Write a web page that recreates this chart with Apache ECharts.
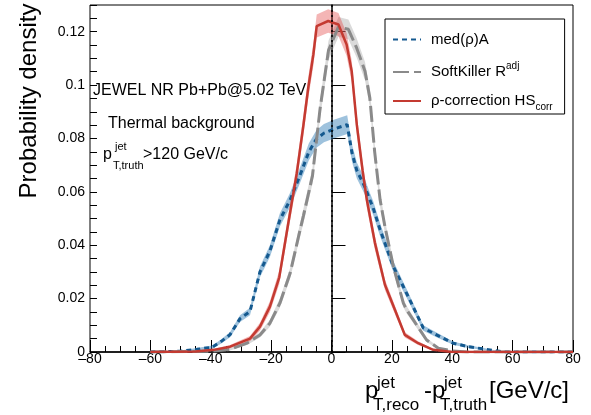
<!DOCTYPE html>
<html><head><meta charset="utf-8">
<script src="https://cdn.jsdelivr.net/npm/echarts@6/dist/echarts.min.js"></script>
<style>html,body{margin:0;padding:0;background:#fff}#c{width:591px;height:415px}</style>
</head><body><div id="c"></div>
<script>
// ---- data ----
const xTicks = [-80, -60, -40, -20, 0, 20, 40, 60, 80];
const yTicks = [0, 0.02, 0.04, 0.06, 0.08, 0.1, 0.12];

const blueX = [-60,-50,-44.6,-39.5,-36.5,-33.6,-30.3,-27,-23.7,-20.4,-17.1,-13.7,-10.5,-7.5,-5,-2.5,1,5.2,6.8,8.4,11,12.7,13.8,16.1,20.5,25.4,30.4,34.8,40.3,45.3,50,57,80];
const blueY = [0,0.0003,0.001,0.0018,0.004,0.0065,0.0125,0.0152,0.030,0.0378,0.0495,0.057,0.066,0.075,0.0798,0.082,0.0836,0.0852,0.0745,0.068,0.062,0.057,0.054,0.0458,0.032,0.0208,0.009,0.0064,0.0033,0.002,0.0012,0,0];
const blueErr = [0,0.0003,0.0005,0.0006,0.0008,0.001,0.0013,0.0014,0.002,0.0022,0.0025,0.0027,0.0029,0.0032,0.0033,0.0034,0.0035,0.0035,0.0032,0.003,0.0029,0.0027,0.0026,0.0024,0.002,0.0016,0.001,0.0009,0.0006,0.0005,0.0004,0,0];

const redX = [-60,-45,-39,-33.6,-27,-23.7,-20.4,-17.3,-14.5,-11.5,-9.3,-7.7,-6,-4.9,-1.1,2.3,5,6.7,8.4,10.3,11.7,14.4,17.7,21,24.3,28.7,33.7,40,80];
const redY = [0,0.0002,0.0008,0.002,0.005,0.0095,0.017,0.028,0.047,0.067,0.085,0.099,0.1115,0.1221,0.124,0.1227,0.1152,0.1052,0.085,0.068,0.057,0.0408,0.0252,0.0158,0.0064,0.0033,0.0008,0,0];
const redErr = [0,0.0002,0.0004,0.0006,0.001,0.0015,0.002,0.0025,0.003,0.0035,0.0038,0.004,0.0042,0.0043,0.0044,0.0043,0.0042,0.004,0.0037,0.0033,0.003,0.0026,0.002,0.0016,0.001,0.0007,0.0003,0,0];

const grayX = [-60,-40,-33.6,-28,-23.7,-20.4,-17.1,-13.7,-10.4,-9.3,-6.3,-3.8,-1,2.3,5.6,8.3,11.1,12.7,14.3,16.1,17.7,20.5,23.8,24.9,31.5,35.4,40,45,80];
const grayY = [0,0.0003,0.001,0.0033,0.0064,0.0108,0.0183,0.0295,0.0458,0.051,0.066,0.091,0.113,0.1218,0.1209,0.114,0.1052,0.0952,0.075,0.057,0.047,0.032,0.0183,0.0158,0.0045,0.0014,0.0004,0,0];
const grayErr = [0,0.0002,0.0004,0.0007,0.001,0.0013,0.0017,0.002,0.0025,0.0027,0.003,0.0034,0.0036,0.0037,0.0037,0.0036,0.0034,0.0033,0.003,0.0026,0.0024,0.002,0.0015,0.0014,0.0008,0.0004,0.0002,0,0];

const names = ['med(ρ)A', 'SoftKiller R', 'ρ-correction HS'];

// ---- chart ----
const FONT = 'Liberation Sans, Arial, Helvetica, sans-serif';
const pairs = (xs, ys) => xs.map((x, i) => [x, ys[i]]);

function band(xs, ys, es, color) {
  return {
    type: 'custom', silent: true, z: 1, clip: true,
    data: pairs(xs, ys),
    renderItem: function (params, api) {
      if (params.dataIndex !== 0) return null;
      const pts = [];
      for (let i = 0; i < xs.length; i++) pts.push(api.coord([xs[i], ys[i] + es[i]]));
      for (let i = xs.length - 1; i >= 0; i--) pts.push(api.coord([xs[i], Math.max(0, ys[i] - es[i])]));
      return { type: 'polygon', shape: { points: pts }, style: { fill: color } };
    }
  };
}

const chart = echarts.init(document.getElementById('c'), null, { renderer: 'canvas' });

const series = [
  band(blueX, blueY, blueErr, 'rgba(40,120,180,0.45)'),
  band(grayX, grayY, grayErr, 'rgba(150,150,150,0.35)'),
  band(redX, redY, redErr, 'rgba(225,60,60,0.38)'),
  { type: 'line', name: names[0], data: pairs(blueX, blueY), symbol: 'none', z: 3,
    lineStyle: { color: '#14598f', width: 3, type: [5, 4] }, itemStyle: { color: '#14598f' } },
  { type: 'line', name: names[1], data: pairs(grayX, grayY), symbol: 'none', z: 3,
    lineStyle: { color: '#8a8a8a', width: 3, type: [16, 5] }, itemStyle: { color: '#8a8a8a' } },
  { type: 'line', name: names[2], data: pairs(redX, redY), symbol: 'none', z: 4,
    lineStyle: { color: '#c43a31', width: 2.5 }, itemStyle: { color: '#c43a31' },
    markLine: { silent: true, symbol: ['none', 'none'], label: { show: false },
      lineStyle: { color: '#000', type: [2, 3], width: 1.5 }, data: [{ xAxis: 0 }] } }
];

const txt = (x, y, text, size, extra) => Object.assign({
  type: 'text', x: x, y: y, z: 100,
  style: { text: text, fill: '#000', font: size + 'px ' + FONT, textAlign: 'left', textVerticalAlign: 'middle', verticalAlign: 'middle' }
}, extra || {});

chart.setOption({
  animation: false,
  backgroundColor: '#fff',
  grid: { left: 90, right: 18, top: 5, bottom: 63, show: true, borderColor: '#000', borderWidth: 1, backgroundColor: 'transparent' },
  xAxis: {
    type: 'value', min: -80, max: 80, interval: 20,
    axisLine: { lineStyle: { color: '#000', width: 1.5 } },
    axisTick: { inside: true, length: 12, lineStyle: { color: '#000' } },
    minorTick: { show: true, splitNumber: 4, length: 6, lineStyle: { color: '#000' } },
    splitLine: { show: false },
    axisLabel: { color: '#000', fontFamily: FONT, fontSize: 14, margin: 0,
      formatter: v => xTicks.includes(v) ? String(v).replace('-', '\u2013') : '' }
  },
  yAxis: [
    { type: 'value', min: 0, max: 0.13, interval: 0.02,
      axisLine: { lineStyle: { color: '#000', width: 1.5 } },
      axisTick: { inside: true, length: 14, lineStyle: { color: '#000' } },
      splitLine: { show: false },
      axisLabel: { color: '#000', fontFamily: FONT, fontSize: 14, margin: 5, showMaxLabel: false,
        formatter: v => yTicks.some(t => Math.abs(t - v) < 1e-9) ? String(+v.toFixed(3)) : '' } },
    { type: 'value', min: 0, max: 0.13, interval: 0.005, position: 'left',
      axisLine: { show: false }, axisLabel: { show: false }, splitLine: { show: false },
      axisTick: { inside: true, length: 7, lineStyle: { color: '#000' } } }
  ],
  legend: {
    orient: 'vertical', left: 385, top: 19, padding: [13, 12, 2, 7], itemGap: 14,
    itemWidth: 28, itemHeight: 14, backgroundColor: '#fff', borderColor: '#000', borderWidth: 1,
    data: names, selectedMode: false,
    itemStyle: { opacity: 0 },
    formatter: n => n === names[1] ? '{n|' + n + '}{sup|adj}' : n === names[2] ? '{n|' + n + '}{sub|corr}' : '{n|' + n + '}',
    textStyle: { color: '#000', fontFamily: FONT, fontSize: 15,
      rich: {
        n: { fontFamily: FONT, fontSize: 15, lineHeight: 22, padding: [0, 0, 0, 5] },
        sup: { fontFamily: FONT, fontSize: 10, lineHeight: 10, verticalAlign: 'top' },
        sub: { fontFamily: FONT, fontSize: 10, lineHeight: 10, verticalAlign: 'bottom' }
      } }
  },
  graphic: [
    txt(93, 91, 'JEWEL NR Pb+Pb@5.02 TeV', 16),
    txt(108, 124, 'Thermal background', 16),
    txt(103, 155, 'p', 16),
    txt(115, 147, 'jet', 11),
    txt(113, 166, 'T,truth', 11),
    txt(143, 155, '>120 GeV/c', 16),
    txt(0, 0, 'Probability density', 24, { x: 29, y: 101, rotation: Math.PI / 2,
      style: { text: 'Probability density', fill: '#000', font: '24px ' + FONT, textAlign: 'center', textVerticalAlign: 'middle', verticalAlign: 'middle' } }),
    txt(365, 391, 'p', 24),
    txt(377, 383, 'jet', 17),
    txt(373, 405, 'T,reco', 17),
    txt(424, 391, '-p', 24),
    txt(444, 383, 'jet', 17),
    txt(440, 405, 'T,truth', 17),
    txt(489, 391, '[GeV/c]', 24)
  ],
  series: series
});
</script></body></html>
